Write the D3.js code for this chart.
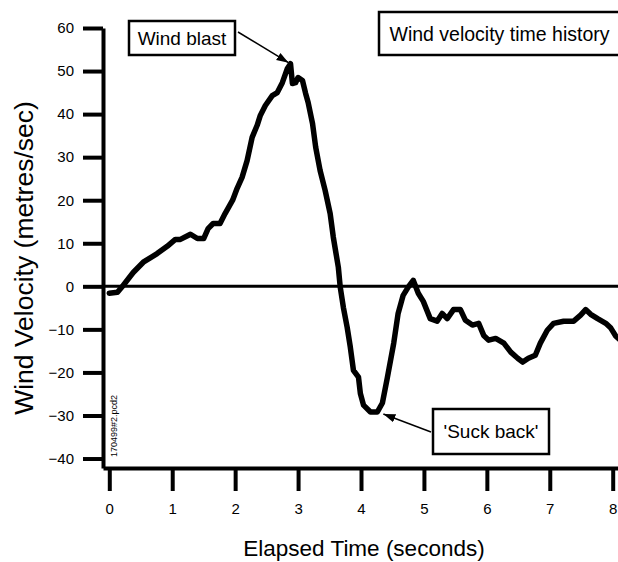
<!DOCTYPE html>
<html lang="en">
<head>
  <meta charset="utf-8">
  <title>Wind velocity time history</title>
  <style>
    body { margin: 0; background: #fff; }
  </style>
</head>
<body>
<div id="chart"></div>
<script src="https://d3js.org/d3.v7.min.js"></script>
<script>
  // elapsed time (s) and wind velocity (m/s)
  const times = [0, 0.13, 0.22, 0.38, 0.54, 0.76, 0.92, 1.05, 1.13, 1.29, 1.40, 1.50, 1.57, 1.65, 1.76, 1.84,
    1.96, 2.03, 2.11, 2.19, 2.27, 2.35, 2.40, 2.48, 2.59, 2.67, 2.75, 2.83, 2.88, 2.91, 2.96, 3.00, 3.07,
    3.12, 3.16, 3.23, 3.28, 3.35, 3.43, 3.51, 3.56, 3.64, 3.67, 3.72, 3.78, 3.83, 3.88, 3.96, 3.99, 4.04,
    4.15, 4.26, 4.34, 4.42, 4.52, 4.59, 4.67, 4.75, 4.83, 4.91, 4.99, 5.10, 5.21, 5.29, 5.37, 5.47, 5.58,
    5.66, 5.77, 5.87, 5.95, 6.03, 6.14, 6.27, 6.38, 6.49, 6.57, 6.66, 6.77, 6.85, 6.96, 7.06, 7.22, 7.38,
    7.49, 7.57, 7.65, 7.76, 7.89, 7.97, 8.05, 8.12];
  const velocity = [-1.6, -1.4, 0.2, 3.2, 5.6, 7.6, 9.3, 10.9, 10.9, 12.1, 11.1, 11.1, 13.4, 14.6, 14.6, 16.9,
    20, 22.7, 25.3, 29.2, 34.6, 37.4, 39.7, 42, 44.3, 45, 47.3, 50.6, 51.7, 47.1, 47.3, 48.5, 47.8,
    44.8, 42.7, 37.8, 32.3, 26.9, 22.3, 16.9, 11.4, 4.4, -0.2, -4.9, -9.5, -14.1, -19.5, -21.1, -24.9, -27.6,
    -29.2, -29.2, -27.1, -21.1, -13.2, -6.3, -2.1, -0.2, 1.4, -1.6, -3.5, -7.5, -8.1, -6.3, -7.5, -5.4, -5.4,
    -7.9, -9, -8.6, -11.4, -12.5, -12.1, -13.2, -15.3, -16.7, -17.6, -16.7, -16, -13.2, -10.2, -8.6, -8.1, -8.1,
    -6.7, -5.4, -6.5, -7.5, -8.6, -9.7, -11.6, -12.5];

  const xTicks = [0, 1, 2, 3, 4, 5, 6, 7, 8];
  const yTicks = [-40, -30, -20, -10, 0, 10, 20, 30, 40, 50, 60];

  const data = times.map((t, i) => ({ t: t, v: velocity[i] }));

  const width = 618, height = 562;
  const font = "'Liberation Sans', Arial, sans-serif";

  const svg = d3.select("#chart").append("svg")
    .attr("width", width)
    .attr("height", height)
    .style("font-family", font);

  const x = d3.scaleLinear().domain([-0.1, 8.1]).range([103, 619]);
  const y = d3.scaleLinear().domain([-42.2, 60]).range([468, 28]);

  svg.append("defs").append("clipPath").attr("id", "clip")
    .append("rect").attr("x", 103).attr("y", 0).attr("width", width - 103).attr("height", 468);

  // axes
  const yAxis = svg.append("g")
    .attr("transform", "translate(103,0)")
    .call(d3.axisLeft(y).tickValues(yTicks).tickSize(20).tickSizeOuter(0).tickPadding(9));

  const xAxis = svg.append("g")
    .attr("transform", "translate(0,468)")
    .call(d3.axisBottom(x).tickValues(xTicks).tickSize(23).tickSizeOuter(0).tickPadding(12));

  [xAxis, yAxis].forEach(a => {
    a.attr("font-family", font).attr("font-size", 15);
    a.selectAll(".domain").attr("stroke", "#000").style("stroke-width", "4px");
    a.selectAll(".tick line").attr("stroke", "#000").style("stroke-width", "4px");
    a.selectAll(".tick text").attr("fill", "#000").style("font-size", "15px");
  });

  // zero line
  svg.append("line")
    .attr("x1", 103).attr("x2", width)
    .attr("y1", y(0)).attr("y2", y(0))
    .attr("stroke", "#000").attr("stroke-width", 3);

  // trace
  svg.append("path")
    .datum(data)
    .attr("clip-path", "url(#clip)")
    .attr("fill", "none")
    .attr("stroke", "#000")
    .attr("stroke-width", 5.5)
    .attr("stroke-linejoin", "round")
    .attr("stroke-linecap", "round")
    .attr("d", d3.line().x(d => x(d.t)).y(d => y(d.v)));

  // axis titles
  svg.append("text")
    .attr("x", 364).attr("y", 556)
    .attr("text-anchor", "middle")
    .style("font-size", "22.5px")
    .text("Elapsed Time (seconds)");

  svg.append("text")
    .attr("transform", "translate(33,258) rotate(-90)")
    .attr("text-anchor", "middle")
    .style("font-size", "26.5px")
    .text("Wind Velocity (metres/sec)");

  svg.append("text")
    .attr("transform", "translate(117,457) rotate(-90)")
    .style("font-size", "9px")
    .text("170499#2.pcd2");

  // annotations
  svg.append("defs").append("marker")
    .attr("id", "arrow")
    .attr("viewBox", "0 0 10 10")
    .attr("refX", 10).attr("refY", 5)
    .attr("markerWidth", 8).attr("markerHeight", 8)
    .attr("orient", "auto")
    .append("path").attr("d", "M0,1.5L10,5L0,8.5Z").attr("fill", "#000");

  const peak = data[28], trough = data[51];

  const boxes = [
    { text: "Wind blast", x: 129, y: 21, w: 106, h: 34, size: 19, from: [238, 32], to: [x(peak.t) - 2, y(peak.v) - 1] },
    { text: "Wind velocity time history", x: 379, y: 12, w: 245, h: 43, size: 19.5 },
    { text: "'Suck back'", x: 433, y: 409, w: 116, h: 45, size: 19, from: [431, 432], to: [x(trough.t) + 6, y(trough.v) + 2] }
  ];

  boxes.forEach(b => {
    svg.append("rect")
      .attr("x", b.x).attr("y", b.y).attr("width", b.w).attr("height", b.h)
      .attr("fill", "#fff").attr("stroke", "#000").attr("stroke-width", 2.5);
    svg.append("text")
      .attr("x", b.x + b.w / 2 - (b.w > 200 ? 2 : 0)).attr("y", b.y + b.h / 2)
      .attr("dy", "0.36em")
      .attr("text-anchor", "middle")
      .style("font-size", b.size + "px")
      .text(b.text);
    if (b.from) {
      svg.append("line")
        .attr("x1", b.from[0]).attr("y1", b.from[1])
        .attr("x2", b.to[0]).attr("y2", b.to[1])
        .attr("stroke", "#000").attr("stroke-width", 1.5)
        .attr("marker-end", "url(#arrow)");
    }
  });
</script>
</body>
</html>
